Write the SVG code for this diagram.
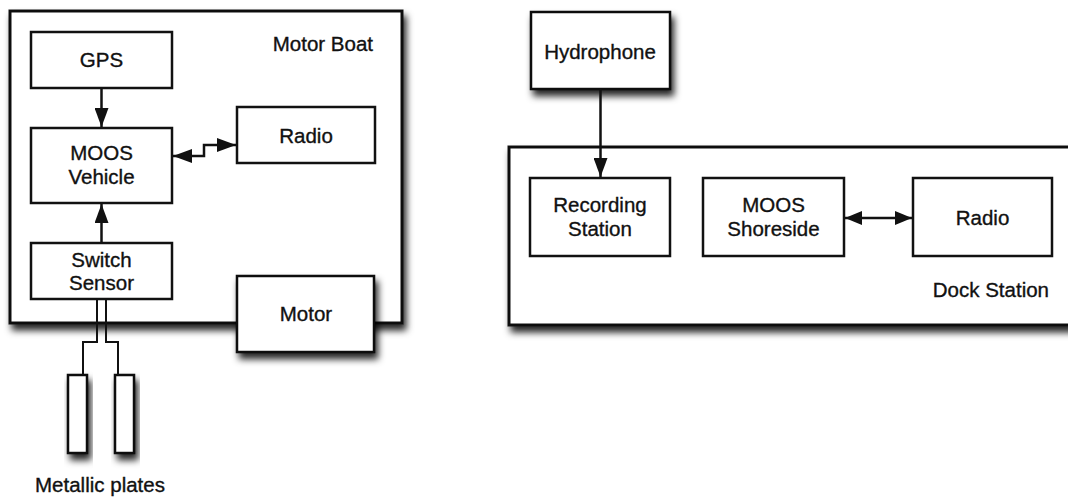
<svg xmlns="http://www.w3.org/2000/svg" width="1068" height="498" viewBox="0 0 1068 498">
<style>
.box{fill:#fff;stroke:#111;stroke-width:2.5}
.outer{fill:#fff;stroke:#111;stroke-width:3}
.t{font-family:"Liberation Sans",Arial,sans-serif;font-size:20.5px;fill:#111;stroke:#111;stroke-width:0.35;text-anchor:middle}
.conn{fill:none;stroke:#111;stroke-width:2.5}
.wire{fill:none;stroke:#111;stroke-width:2}
</style>
<defs>
<filter id="sh" x="-20%" y="-20%" width="150%" height="150%">
<feDropShadow dx="3" dy="6" stdDeviation="3.5" flood-color="#000" flood-opacity="0.85"/>
</filter>
<marker id="ah" markerUnits="userSpaceOnUse" markerWidth="20" markerHeight="14" refX="19" refY="7" orient="auto-start-reverse">
<path d="M0,0 L19,7 L0,14 Z" fill="#111"/>
</marker>
<marker id="ah2" markerUnits="userSpaceOnUse" markerWidth="18" markerHeight="14" refX="17" refY="7" orient="auto-start-reverse">
<path d="M0,0 L17,7 L0,14 Z" fill="#111"/>
</marker>
</defs>
<rect x="0" y="0" width="1068" height="498" fill="#fff"/>

<g id="motor-boat">
<rect class="outer" x="10" y="11" width="392" height="312" filter="url(#sh)"/>
<text class="t" x="373" y="51" style="text-anchor:end">Motor Boat</text>
</g>

<g id="dock-station">
<rect class="outer" x="509" y="147" width="580" height="178" filter="url(#sh)"/>
<text class="t" x="1049" y="297" style="text-anchor:end">Dock Station</text>
</g>

<g id="gps">
<rect class="box" x="31" y="32" width="141" height="56"/>
<text class="t" x="101.5" y="67">GPS</text>
</g>

<g id="moos-vehicle">
<rect class="box" x="31" y="128" width="141" height="75"/>
<text class="t" x="101.5" y="160">MOOS</text>
<text class="t" x="101.5" y="184">Vehicle</text>
</g>

<g id="radio-boat">
<rect class="box" x="237" y="107" width="138" height="56"/>
<text class="t" x="306" y="143">Radio</text>
</g>

<g id="switch-sensor">
<rect class="box" x="31" y="243" width="141" height="56"/>
<text class="t" x="101.5" y="267">Switch</text>
<text class="t" x="101.5" y="290">Sensor</text>
</g>

<g id="motor">
<rect class="box" x="237" y="276" width="137" height="76" filter="url(#sh)"/>
<text class="t" x="306" y="321">Motor</text>
</g>

<g id="plate-left">
<rect class="box" x="68" y="375" width="19" height="78" filter="url(#sh)"/>
</g>
<g id="plate-right">
<rect class="box" x="115" y="375" width="19" height="78" filter="url(#sh)"/>
</g>
<g id="metallic-plates-label">
<text class="t" x="100" y="492">Metallic plates</text>
</g>

<g id="hydrophone">
<rect class="box" x="531" y="12" width="139" height="77" filter="url(#sh)"/>
<text class="t" x="600" y="59">Hydrophone</text>
</g>

<g id="recording-station">
<rect class="box" x="530" y="178" width="140" height="78"/>
<text class="t" x="600" y="212">Recording</text>
<text class="t" x="600" y="236">Station</text>
</g>

<g id="moos-shoreside">
<rect class="box" x="703" y="178" width="141" height="78"/>
<text class="t" x="773.5" y="212">MOOS</text>
<text class="t" x="773.5" y="236">Shoreside</text>
</g>

<g id="radio-dock">
<rect class="box" x="913" y="178" width="139" height="78"/>
<text class="t" x="982.5" y="225">Radio</text>
</g>

<g id="connectors">
<line class="conn" x1="101.5" y1="88" x2="101.5" y2="127" marker-end="url(#ah)"/>
<line class="conn" x1="101.5" y1="243" x2="101.5" y2="204" marker-end="url(#ah)"/>
<path class="conn" d="M173,156 L204,156 L204,145 L236,145" marker-start="url(#ah)" marker-end="url(#ah)"/>
<line class="conn" x1="600.5" y1="89" x2="600.5" y2="177" marker-end="url(#ah)"/>
<line class="conn" x1="845" y1="218" x2="912" y2="218" marker-start="url(#ah2)" marker-end="url(#ah2)"/>
<path class="wire" d="M97,299 L97,342 L83,342 L83,375"/>
<path class="wire" d="M106,299 L106,342 L118,342 L118,375"/>
</g>
</svg>
